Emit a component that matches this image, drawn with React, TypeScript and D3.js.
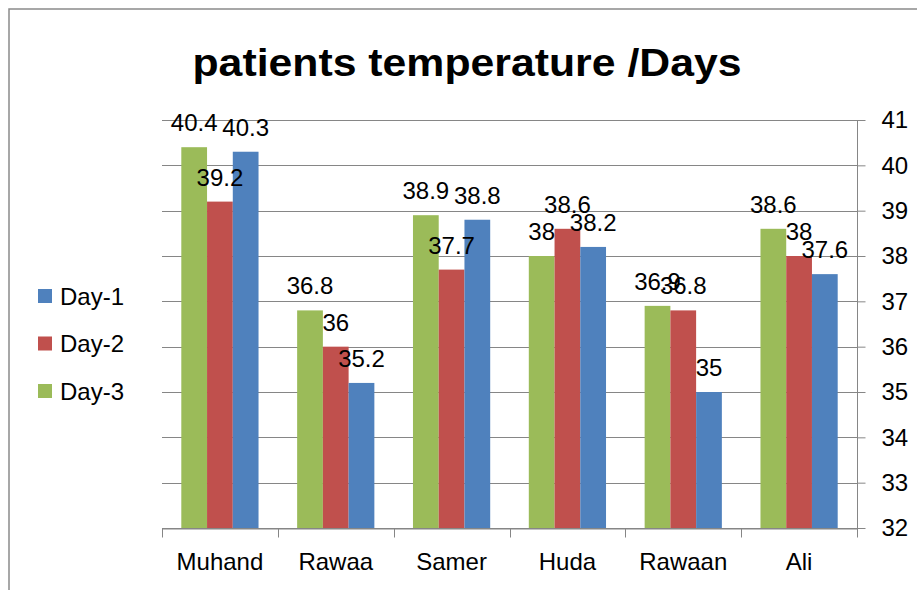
import React, { useRef, useEffect } from 'react';
import * as d3 from 'd3';

const patients = ['Muhand', 'Rawaa', 'Samer', 'Huda', 'Rawaan', 'Ali'];
const day1 = [40.3, 35.2, 38.8, 38.2, 35, 37.6];
const day2 = [39.2, 36, 37.7, 38.6, 36.8, 38];
const day3 = [40.4, 36.8, 38.9, 38, 36.9, 38.6];
const yTicks = [32, 33, 34, 35, 36, 37, 38, 39, 40, 41];

const barOrder = ['Day-3', 'Day-2', 'Day-1'];
const legendOrder = ['Day-1', 'Day-2', 'Day-3'];

function App() {
  const canvas = useRef<SVGSVGElement>(null);

  const width = 917;
  const height = 590;
  const left = 162;
  const right = 857;
  const top = 120;
  const bottom = 528;
  const font = '"Liberation Sans", Arial, sans-serif';
  const gridColour = '#868686';

  const values: Record<string, number[]> = { 'Day-1': day1, 'Day-2': day2, 'Day-3': day3 };
  const colours: Record<string, string> = { 'Day-1': '#4F81BD', 'Day-2': '#C0504D', 'Day-3': '#9BBB59' };

  const xScale = d3.scaleBand().domain(patients).range([left, right]).padding(0);
  const innerScale = d3.scaleBand()
    .domain(barOrder)
    .range([0, xScale.bandwidth()])
    .paddingInner(0)
    .paddingOuter(0.75);
  const yScale = d3.scaleLinear().domain([32, 41]).range([bottom, top]);

  useEffect(() => {
    const svg = d3.select(canvas.current);
    svg.selectAll('*').remove();

    // chart area border
    svg.append('rect')
      .attr('x', 9).attr('y', 9)
      .attr('width', 1000).attr('height', 1000)
      .attr('fill', 'none')
      .attr('stroke', '#8a8a8a')
      .attr('stroke-width', 1.5);

    svg.append('text')
      .attr('x', 467).attr('y', 76)
      .attr('text-anchor', 'middle')
      .attr('font-family', font)
      .attr('font-weight', 'bold')
      .attr('font-size', 38)
      .attr('textLength', 549)
      .attr('lengthAdjust', 'spacingAndGlyphs')
      .text('patients temperature /Days');

    // gridlines
    svg.append('g')
      .selectAll('line')
      .data(yTicks)
      .enter()
      .append('line')
      .attr('x1', left).attr('x2', right)
      .attr('y1', d => Math.round(yScale(d)) + 0.5)
      .attr('y2', d => Math.round(yScale(d)) + 0.5)
      .attr('stroke', gridColour);

    // bars
    const groups = svg.append('g')
      .selectAll('g')
      .data(patients)
      .enter()
      .append('g')
      .attr('transform', d => `translate(${xScale(d)},0)`);

    barOrder.forEach(series => {
      groups.append('rect')
        .attr('x', innerScale(series)!)
        .attr('y', (d, i) => yScale(values[series][i]))
        .attr('width', innerScale.bandwidth())
        .attr('height', (d, i) => bottom - yScale(values[series][i]))
        .attr('fill', colours[series]);
    });

    // data labels
    barOrder.forEach(series => {
      groups.append('text')
        .attr('x', innerScale(series)! + innerScale.bandwidth() / 2)
        .attr('y', (d, i) => yScale(values[series][i]) - 16)
        .attr('text-anchor', 'middle')
        .attr('font-family', font)
        .attr('font-size', 24)
        .text((d, i) => String(values[series][i]));
    });

    // right value axis
    const yAxis = svg.append('g')
      .attr('transform', `translate(${right + 0.5},0)`)
      .call(d3.axisRight(yScale).tickValues(yTicks).tickSize(8).tickSizeOuter(0).tickPadding(16).tickFormat(d3.format('d')));
    yAxis.select('.domain').attr('stroke', gridColour).attr('d', `M0,${top}V${bottom + 9}`);
    yAxis.selectAll('line').attr('stroke', gridColour);
    yAxis.selectAll('text').attr('font-family', font).attr('font-size', 24).attr('fill', '#000');

    // category axis
    const xAxis = svg.append('g')
      .attr('transform', `translate(0,${bottom + 0.5})`)
      .call(d3.axisBottom(xScale).tickSize(0).tickPadding(24).tickSizeOuter(0));
    xAxis.select('.domain').attr('stroke', gridColour);
    xAxis.selectAll('text').attr('font-family', font).attr('font-size', 24).attr('fill', '#000');

    const boundaries = patients.map(p => xScale(p)!).concat([right]);
    xAxis.selectAll('line.boundary')
      .data(boundaries)
      .enter()
      .append('line')
      .attr('class', 'boundary')
      .attr('x1', d => Math.round(d) + 0.5).attr('x2', d => Math.round(d) + 0.5)
      .attr('y1', 0).attr('y2', 9)
      .attr('stroke', gridColour);

    // legend
    const legend = svg.append('g')
      .selectAll('g')
      .data(legendOrder)
      .enter()
      .append('g')
      .attr('transform', (d, i) => `translate(38,${296 + i * 47.5})`);
    legend.append('rect')
      .attr('x', 0).attr('y', -7)
      .attr('width', 14).attr('height', 14)
      .attr('fill', d => colours[d]);
    legend.append('text')
      .attr('x', 22).attr('y', 8.5)
      .attr('font-family', font)
      .attr('font-size', 24)
      .text(d => d);
  });

  return (
    <svg
      ref={canvas}
      width={width}
      height={height}
      style={{ position: 'absolute', left: 0, top: 0, background: '#fff' }}
    />
  );
}

export default App;
